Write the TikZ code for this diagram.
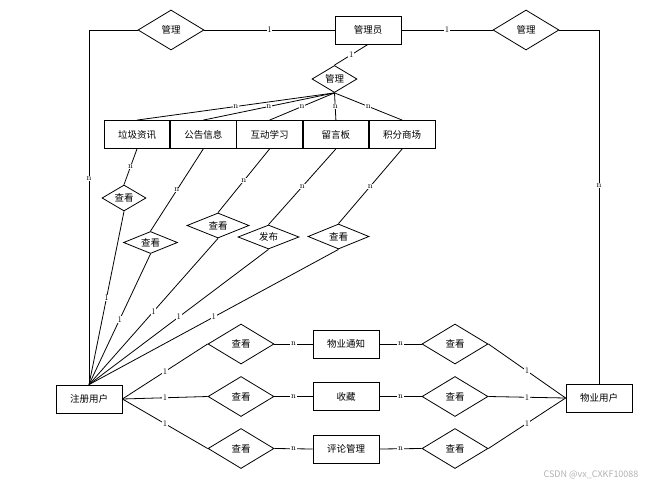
\documentclass[tikz,border=0pt]{standalone}
\usepackage{fontspec}
\newfontfamily\cjk{Noto Sans CJK SC}
\usepackage{tikz}
\usetikzlibrary{shapes.geometric, positioning}

\tikzset{
  entity/.style={draw, font=\cjk\fontsize{9.5}{11}\selectfont, minimum width=66pt, minimum height=28pt, inner sep=0pt},
  relation/.style={draw, diamond, aspect=2, font=\cjk\fontsize{9.5}{11}\selectfont, inner sep=0pt},
  card/.style={fill=white, inner sep=0.6pt, font=\fontsize{8.5}{9}\selectfont},
}

\begin{document}
\begin{tikzpicture}[x=1pt, y=-1pt, line width=0.8pt]
            \useasboundingbox (0,0) rectangle (668,489);
            % entities
            \node [entity] (admin) at (368,30) {管理员};
            \node [entity] (reg) at (89,399) {注册用户};
            \node [entity] (prop) at (599,398) {物业用户};
            \node [entity, minimum width=65.5pt] (trash) at (137,134.5) {垃圾资讯};
            \node [entity, minimum width=65.5pt, right=0pt of trash] (notice) {公告信息};
            \node [entity, minimum width=65.5pt, right=0pt of notice] (learn) {互动学习};
            \node [entity, minimum width=65.5pt, right=0pt of learn] (board) {留言板};
            \node [entity, minimum width=65.5pt, right=0pt of board] (shop) {积分商场};
            \node [entity] (pnotice) at (346,344) {物业通知};
            \node [entity] (fav) at (346,396.5) {收藏};
            \node [entity] (review) at (346,449) {评论管理};
            % relations
            \node [relation, minimum width=66pt, minimum height=40pt] (mgrL) at (171,30) {管理};
            \node [relation, minimum width=66pt, minimum height=40pt] (mgrR) at (526,30) {管理};
            \node [relation, minimum width=45pt, minimum height=27pt] (mgrM) at (334.5,79) {管理};
            \node [relation, minimum width=44pt, minimum height=26pt] (q1) at (124,198) {查看};
            \node [relation, minimum width=54pt, minimum height=22pt] (q2) at (150.5,242.5) {查看};
            \node [relation, minimum width=62pt, minimum height=25pt] (q3) at (218,225.5) {查看};
            \node [relation, minimum width=61pt, minimum height=24pt] (pub) at (268.5,237) {发布};
            \node [relation, minimum width=61pt, minimum height=25pt] (q5) at (338.5,236.5) {查看};
            \node [relation, minimum width=66pt, minimum height=40pt] (ra) at (241,344) {查看};
            \node [relation, minimum width=66pt, minimum height=40pt] (rb) at (241,396.5) {查看};
            \node [relation, minimum width=66pt, minimum height=40pt] (rc) at (241,448.5) {查看};
            \node [relation, minimum width=66pt, minimum height=40pt] (sa) at (455,344) {查看};
            \node [relation, minimum width=66pt, minimum height=40pt] (sb) at (455,396.5) {查看};
            \node [relation, minimum width=66pt, minimum height=40pt] (sc) at (455,448.5) {查看};
            % links
            \draw (admin.west) -- node [card] {1} (mgrL.east);
            \draw (admin.east) -- node [card] {1} (mgrR.west);
            \draw (mgrL.west) -| node [card, pos=0.71] {n} (reg.north);
            \draw (mgrR.east) -| node [card, pos=0.72] {n} (prop.north);
            \draw (admin.south) -- node [card] {1} (mgrM.north);
            \foreach \e in {trash, notice, learn, board, shop}
              \draw (mgrM.south) -- node [card] {n} (\e.north);
            \draw (trash.south) -- node [card] {n} (q1.north);
            \draw (notice.south) -- node [card] {n} (q2.north);
            \draw (learn.south) -- node [card] {n} (q3.north);
            \draw (board.south) -- node [card] {n} (pub.north);
            \draw (shop.south) -- node [card] {n} (q5.north);
            \foreach \r in {q1, q2, q3, pub, q5}
              \draw (\r.south) -- node [card] {1} (reg.north);
            \foreach \r/\e/\s in {ra/pnotice/sa, rb/fav/sb, rc/review/sc} {
              \draw (reg.east) -- node [card] {1} (\r.west);
              \draw (\r.east) -- node [card] {n} (\e.west);
              \draw (\e.east) -- node [card] {n} (\s.west);
              \draw (\s.east) -- node [card] {1} (prop.west);
            }
            \node [text=black!30, font=\cjk\fontsize{9}{10}\selectfont] (mark) at (591,475) {CSDN @vx\_CXKF10088};
\end{tikzpicture}
\end{document}
